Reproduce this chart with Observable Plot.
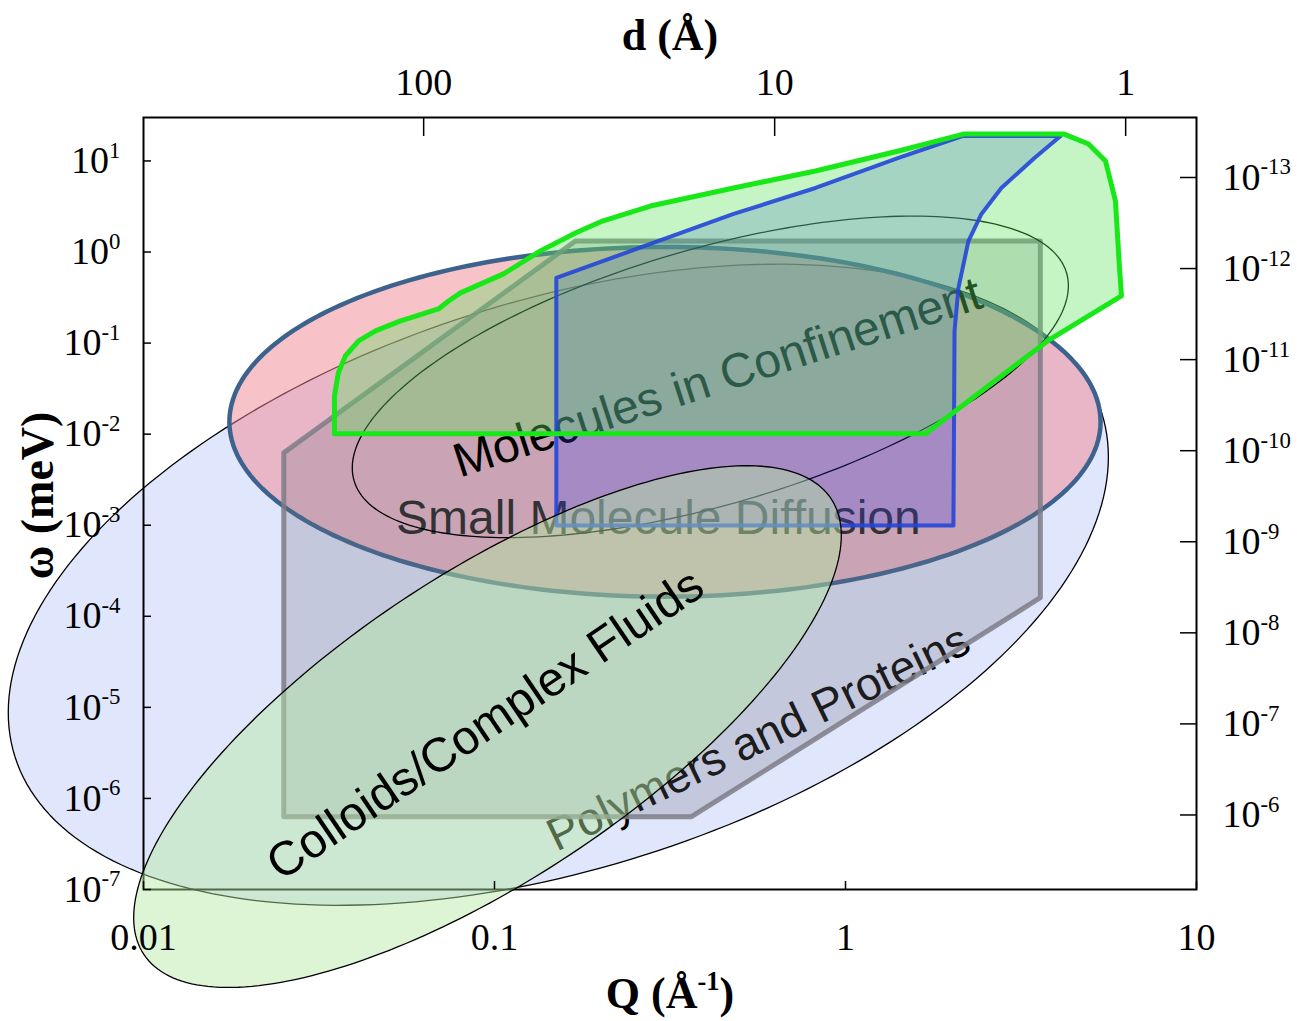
<!DOCTYPE html>
<html>
<head>
<meta charset="utf-8">
<script src="https://cdn.jsdelivr.net/npm/d3@7"></script>
<script src="https://cdn.jsdelivr.net/npm/@observablehq/plot@0.6"></script>
<style>
  html, body { margin: 0; padding: 0; background: #fff; }
  #chart svg { display: block; }
</style>
</head>
<body>
<div id="chart"></div>
<script>
// ---------- data (Q in 1/Å, ω in meV) ----------
const HBAR = 6.582e-13; // meV·s, converts ω to time
const qTicks = [0.01, 0.1, 1, 10];
const omegaTicks = [1e-7, 1e-6, 1e-5, 1e-4, 1e-3, 1e-2, 1e-1, 1e0, 1e1];
const dTicks = [100, 10, 1];                 // d = 2π/Q (Å)
const tTicks = [1e-13, 1e-12, 1e-11, 1e-10, 1e-9, 1e-8, 1e-7, 1e-6]; // seconds

// instrument coverage regions, vertices [Q, ω]
const grayRegion = [[0.0251, 6.3e-7], [0.364, 6.3e-7], [3.59, 1.6e-4], [3.59, 1.32], [0.170, 1.32], [0.0251, 6.24e-3]];
const blueRegion = [[0.150, 9.9e-4], [2.03, 9.9e-4], [2.045, 0.136], [2.098, 0.404], [2.24, 1.32], [2.44, 2.62],
  [2.78, 5.05], [3.455, 10.8], [4.10, 18.8], [2.154, 18.8], [1.416, 10.8], [0.821, 5.05], [0.480, 2.62],
  [0.278, 1.227], [0.150, 0.520]];
const greenRegion = [[0.0350, 0.0101], [1.690, 0.0101], [3.763, 0.1057], [6.113, 0.330], [6.034, 0.669],
  [5.876, 3.636], [5.505, 9.99], [4.924, 15.35], [4.179, 19.8], [2.183, 19.8], [1.416, 12.85], [0.821, 7.76],
  [0.480, 5.05], [0.278, 3.20], [0.203, 2.19], [0.170, 1.62], [0.1352, 1.03], [0.1061, 0.575], [0.0800, 0.356],
  [0.0740, 0.290], [0.0692, 0.237], [0.0540, 0.1754], [0.0458, 0.136], [0.0410, 0.1057], [0.0376, 0.0724],
  [0.0359, 0.0471], [0.0350, 0.0264]];

// science-area ellipses in log–log space: centre [Q, ω], semi-axis vectors u, v in decades [ΔlogQ, Δlogω]
const polymersEllipse    = {center: [0.152, 2.22e-4], u: [1.548, 1.889], v: [-0.244, 2.970]};
const smallMolEllipse    = {center: [0.306, 0.01366], u: [1.241, 0],     v: [0, 1.920]};
const confinementEllipse = {center: [0.412, 0.0426],  u: [1.015, 1.140], v: [-0.102, 1.348]};
const colloidsEllipse    = {center: [0.0955, 6.15e-6], u: [0.979, 2.502], v: [-0.240, 1.395]};

// region labels
const labelText  = ["Molecules in Confinement", "Small Molecule Diffusion", "Polymers and Proteins", "Colloids/Complex Fluids"];
const labelQ     = [0.432, 0.293, 0.565, 0.0942];
const labelOmega = [0.0415, 1.18e-3, 4.6e-6, 6.47e-6];
const labelAngle = [-18, 0, -25.8, -34.1];

// ---------- layout ----------
const W = 1297, H = 1021;
const mL = 143, mR = 101, mT = 117, mB = 132;
const xDomain = [0.01, 10], yDomain = [1e-7, 30];
const pxX = (W - mL - mR) / Math.log10(xDomain[1] / xDomain[0]);
const pxY = (H - mT - mB) / Math.log10(yDomain[1] / yDomain[0]);

function ellipsePoints(e, n = 240) {
  const lq = Math.log10(e.center[0]), lw = Math.log10(e.center[1]);
  return d3.range(n).map(i => {
    const t = 2 * Math.PI * i / n;
    return {
      Q: 10 ** (lq + e.u[0] * Math.cos(t) + e.v[0] * Math.sin(t)),
      W: 10 ** (lw + e.u[1] * Math.cos(t) + e.v[1] * Math.sin(t))
    };
  });
}
const poly = arr => arr.map(([Q, W]) => ({Q, W}));
const label = i => [{text: labelText[i], Q: labelQ[i], W: labelOmega[i]}];
const sans = "Liberation Sans, Arial, sans-serif";
const serif = "Liberation Serif, Times New Roman, serif";
const exp10 = v => `10^{${Math.round(Math.log10(v))}}`;
const closed = {x: "Q", y: "W", curve: "linear-closed"};

const chart = Plot.plot({
  width: W, height: H,
  marginLeft: mL, marginRight: mR, marginTop: mT, marginBottom: mB,
  x: {type: "log", domain: xDomain, axis: null},
  y: {type: "log", domain: yDomain, axis: null},
  style: {background: "white", overflow: "visible"},
  marks: [
    // Polymers and Proteins
    Plot.line(ellipsePoints(polymersEllipse), {...closed, fill: "#c6d1fa", fillOpacity: 0.55, stroke: "black", strokeWidth: 1.3}),
    // Small molecule diffusion
    Plot.line(ellipsePoints(smallMolEllipse), {...closed, fill: "#f08592", fillOpacity: 0.5, stroke: "#3d628e", strokeWidth: 4.5}),
    Plot.frame({stroke: "black", strokeWidth: 2}),
    Plot.text(label(2), {x: "Q", y: "W", text: "text", rotate: labelAngle[2], fontSize: 46, fontFamily: sans, fill: "black"}),
    Plot.text(label(1), {x: "Q", y: "W", text: "text", rotate: labelAngle[1], fontSize: 48, fontFamily: sans, fill: "#1e1e1e"}),
    // gray instrument region
    Plot.line(poly(grayRegion), {...closed, fill: "#6e6e7a", fillOpacity: 0.25, stroke: "#7d7d86", strokeWidth: 5, strokeOpacity: 0.85}),
    // Molecules in confinement
    Plot.line(ellipsePoints(confinementEllipse), {...closed, fill: "none", stroke: "black", strokeWidth: 1.3}),
    Plot.text(label(0), {x: "Q", y: "W", text: "text", rotate: labelAngle[0], fontSize: 48, fontFamily: sans, fill: "black"}),
    // blue and green instrument regions
    Plot.line(poly(blueRegion), {...closed, fill: "#3c3cf0", fillOpacity: 0.25, stroke: "none"}),
    Plot.line(poly(greenRegion), {...closed, fill: "#5ee05e", fillOpacity: 0.36, stroke: "none"}),
    Plot.line(poly(blueRegion), {...closed, fill: "none", stroke: "#2446d8", strokeWidth: 4, strokeOpacity: 0.9}),
    Plot.line(poly(greenRegion), {...closed, fill: "none", stroke: "#18e818", strokeWidth: 5}),
    // Colloids / complex fluids
    Plot.line(ellipsePoints(colloidsEllipse), {...closed, fill: "#b4e8a0", fillOpacity: 0.45, stroke: "black", strokeWidth: 1.3}),
    Plot.text(label(3), {x: "Q", y: "W", text: "text", rotate: labelAngle[3], fontSize: 48, fontFamily: sans, fill: "black"}),

    // inward ticks
    Plot.ruleY(omegaTicks, {y: d => d, x1: xDomain[0], x2: xDomain[0] * 10 ** (8 / pxX), stroke: "black", strokeWidth: 1.5}),
    Plot.ruleX(qTicks, {x: d => d, y1: yDomain[0], y2: yDomain[0] * 10 ** (8 / pxY), stroke: "black", strokeWidth: 1.5}),
    Plot.ruleX(dTicks, {x: d => 2 * Math.PI / d, y1: yDomain[1], y2: yDomain[1] / 10 ** (19 / pxY), stroke: "black", strokeWidth: 1.5}),
    Plot.ruleY(tTicks, {y: t => HBAR / t, x1: xDomain[1], x2: xDomain[1] / 10 ** (16 / pxX), stroke: "black", strokeWidth: 1.5}),

    // tick labels
    Plot.text(omegaTicks, {x: xDomain[0], y: d => d, text: exp10, textAnchor: "end", dx: -23, fontSize: 38, fontFamily: serif, fill: "black"}),
    Plot.text(tTicks, {x: xDomain[1], y: t => HBAR / t, text: exp10, textAnchor: "start", dx: 26, fontSize: 38, fontFamily: serif, fill: "black"}),
    Plot.text(qTicks, {x: d => d, y: yDomain[0], text: d => String(d), dy: 48, fontSize: 38, fontFamily: serif, fill: "black"}),
    Plot.text(dTicks, {x: d => 2 * Math.PI / d, y: yDomain[1], text: d => String(d), dy: -35, fontSize: 38, fontFamily: serif, fill: "black"}),

    // axis titles
    Plot.text(["d (Å)"], {frameAnchor: "top", text: d => d, textAnchor: "middle", lineAnchor: "middle", dy: -82,
      fontSize: 44, fontWeight: "bold", fontFamily: serif, fill: "black"}),
    Plot.text(["Q (Å^{-1})"], {frameAnchor: "bottom", text: d => d, textAnchor: "middle", lineAnchor: "middle", dy: 104,
      fontSize: 44, fontWeight: "bold", fontFamily: serif, fill: "black"}),
    Plot.text(["ω (meV)"], {frameAnchor: "left", text: d => d, textAnchor: "middle", lineAnchor: "middle", dx: -105, dy: -8, rotate: -90,
      fontSize: 46, fontWeight: "bold", fontFamily: serif, fill: "black"})
  ]
});

// render "^{...}" as superscripts
(function applySuperscripts(svg) {
  const ns = "http://www.w3.org/2000/svg";
  svg.querySelectorAll("text").forEach(t => {
    const s = t.textContent;
    if (!s.includes("^{")) return;
    let el = t, fs = NaN;
    while (el && isNaN(fs)) { fs = parseFloat(el.getAttribute && el.getAttribute("font-size")); el = el.parentNode; }
    if (isNaN(fs)) fs = 38;
    const rise = fs * 0.4;
    const parts = s.split(/\^\{([^}]*)\}/);
    t.textContent = "";
    let raised = false;
    parts.forEach((p, i) => {
      if (!p) return;
      const ts = document.createElementNS(ns, "tspan");
      ts.textContent = p;
      if (i % 2 === 1) { ts.setAttribute("font-size", fs * 0.6); ts.setAttribute("dy", -rise); raised = true; }
      else if (raised) { ts.setAttribute("dy", rise); raised = false; }
      t.appendChild(ts);
    });
  });
})(chart);

document.getElementById("chart").appendChild(chart);
</script>
</body>
</html>
